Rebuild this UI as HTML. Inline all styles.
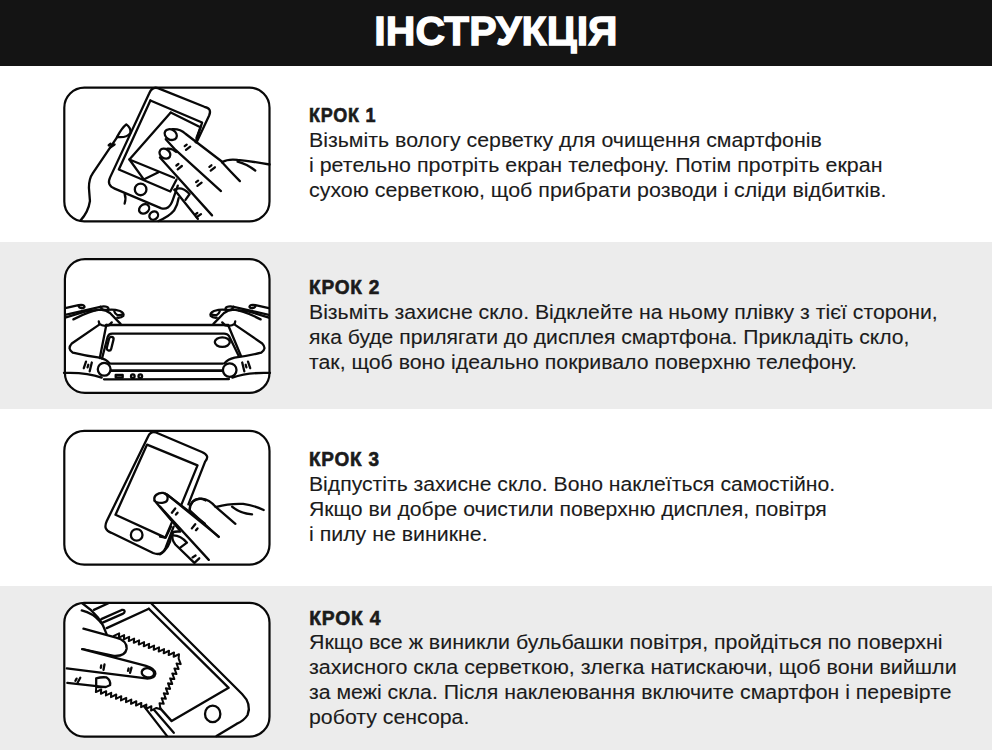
<!DOCTYPE html>
<html><head><meta charset="utf-8">
<style>
html,body{margin:0;padding:0;}
body{width:992px;height:750px;position:relative;overflow:hidden;background:#fff;font-family:"Liberation Sans",sans-serif;color:#1b1b1b;}
.hdr{position:absolute;left:0;top:0;width:992px;height:66.4px;background:#141414;}
.title{position:absolute;left:0px;width:992px;text-align:center;top:7px;font-weight:bold;font-size:41px;line-height:48px;color:#fff;-webkit-text-stroke:1.3px #fff;letter-spacing:0.05px;}
.band{position:absolute;left:0;width:992px;background:#ececec;}
.ill{position:absolute;left:0;top:0;}
.ill *{vector-effect:non-scaling-stroke;}
.t{position:absolute;left:309.3px;white-space:nowrap;font-size:19.3px;line-height:20px;transform-origin:0 0;-webkit-text-stroke:0.1px #1b1b1b;}
.h{font-weight:bold;-webkit-text-stroke:0.6px #1b1b1b;}
</style></head><body>
<div class="hdr"></div>
<div class="title">ІНСТРУКЦІЯ</div>
<div class="band" style="top:241.8px;height:167.7px"></div>
<div class="band" style="top:585.7px;height:164.3px"></div>
<svg class="ill" width="992" height="750" viewBox="0 0 992 750" fill="none" stroke="#080808" stroke-width="2.3" stroke-linecap="round" stroke-linejoin="round" vector-effect="non-scaling-stroke">
<rect x="64.3" y="87.7" width="205.2" height="133.7" rx="20" fill="#fff" stroke-width="2.2"/>
<rect x="64.9" y="259.1" width="204.6" height="133.8" rx="20" fill="#fff" stroke-width="2.2"/>
<rect x="64.3" y="430.9" width="205.2" height="133.7" rx="20" fill="#fff" stroke-width="2.2"/>
<rect x="64.3" y="602.8" width="205.2" height="133.9" rx="20" fill="#fff" stroke-width="2.2"/>
<!--ILL1--><g transform="translate(64,86) scale(0.207661)">
<path d="M638,272 L699,142 Q714,108 676,100 L452,10 Q424,2 410,36 L222,440 Q204,478 244,494 L466,588 Q505,602 524,548 L548,480"/>
<path d="M416,70 L665,176 L634,270"/>
<path d="M416,70 L264,402 L512,508 L542,450"/>
<path d="M514,128 L657,199 L638,250"/>
<path d="M514,128 L315,354 L384,450 L455,415"/>
<path d="M315,354 L530,442"/>
<circle cx="369" cy="498" r="28"/>
<ellipse cx="514" cy="234" rx="31" ry="24" transform="rotate(30 514 234)"/>
<path d="M522,208 Q560,206 585,230 L763,366"/>
<path d="M490,256 L537,308 L756,506"/>
<ellipse cx="486" cy="326" rx="28" ry="22" transform="rotate(35 486 326)"/>
<path d="M498,302 Q522,300 540,318"/>
<path d="M462,344 L713,623"/>
<path d="M761,367 Q790,350 836,356 Q900,362 990,378"/>
<path d="M836,364 Q880,375 921,407"/>
<path d="M761,367 Q800,410 847,458"/>
<path d="M532,500 Q565,480 605,520 L585,548"/>
<path d="M532,500 L645,640"/>
<path d="M255,246 Q280,200 300,185 Q322,200 320,225 Q305,250 258,246"/>
<path d="M256,246 L139,420 Q120,447 120,490 L125,554 Q117,607 80,647"/>
<path d="M292,520 Q300,540 292,566"/>
<ellipse cx="386" cy="592" rx="26" ry="21" transform="rotate(-35 386 592)"/>
<ellipse cx="432" cy="624" rx="22" ry="19" transform="rotate(-35 432 624)"/>
<path d="M455,650 Q505,630 530,600 Q548,570 552,540"/>
</g>
<path d="M186.0,149.9 L190.2,146.6 M184.7,146.1 L186.7,144.6 M177.7,169.3 L181.9,166.0 M176.4,165.5 L178.4,164.0 M210.7,170.6 L214.9,167.3 M209.4,166.8 L211.4,165.3 M197.4,185.9 L201.6,182.6 M196.1,182.1 L198.1,180.6 M110.2,147.5 L114.6,144.5 M108.7,145.2 L110.6,143.8 M196.6,217.2 L201.0,214.1 M195.4,214.4 L197.3,213.0 "/>
<!--/ILL1-->
<!--ILL2--><g transform="translate(64,300) scale(0.060484)">
<path d="M20,135 L240,85 Q335,70 340,112 Q335,140 280,130"/>
<path d="M240,100 Q250,130 290,132"/>
<path d="M20,245 L600,112"/>
<path d="M600,112 Q720,95 735,140 Q730,170 690,165"/>
<path d="M20,290 L330,195 Q420,172 520,172"/>
<path d="M610,120 Q620,160 670,165"/>
<path d="M155,320 Q450,170 600,160 Q700,170 760,215 L935,395"/>
<path d="M722,165 Q815,149 926,182 Q1003,220 980,264 Q947,298 881,293"/>
<path d="M831,187 Q843,231 881,248 Q947,253 970,236"/>
<path d="M575,355 L585,395 Q640,440 740,420 L790,370"/>
</g>
<g transform="translate(64,300) scale(0.110887)">
<path d="M318,222 L70,392 Q25,440 80,475 Q200,505 320,520 Q380,535 410,570"/>
<path d="M0,658 Q200,650 340,700"/>
</g>
<g transform="translate(334,0) scale(-1,1) translate(64,300) scale(0.060484)">
<path d="M20,135 L240,85 Q335,70 340,112 Q335,140 280,130"/>
<path d="M240,100 Q250,130 290,132"/>
<path d="M20,245 L600,112"/>
<path d="M600,112 Q720,95 735,140 Q730,170 690,165"/>
<path d="M20,290 L330,195 Q420,172 520,172"/>
<path d="M610,120 Q620,160 670,165"/>
<path d="M155,320 Q450,170 600,160 Q700,170 760,215 L935,395"/>
<path d="M722,165 Q815,149 926,182 Q1003,220 980,264 Q947,298 881,293"/>
<path d="M831,187 Q843,231 881,248 Q947,253 970,236"/>
<path d="M575,355 L585,395 Q640,440 740,420 L790,370"/>
</g>
<g transform="translate(334,0) scale(-1,1) translate(64,300) scale(0.110887)">
<path d="M318,222 L70,392 Q25,440 80,475 Q200,505 320,520 Q380,535 410,570"/>
<path d="M0,658 Q200,650 340,700"/>
</g>
<path d="M106.3,325 L228.3,325"/>
<path d="M106.3,325 L99.8,358"/>
<path d="M228.3,325.5 L241,356"/>
<path d="M102,358.5 L107.6,337 Q108.6,333.6 112,333.6 L224,333.6 Q227.5,333.6 229,336 L239,356.5"/>
<rect x="107.9" y="336.7" width="4.5" height="14" rx="2.2" transform="rotate(14 110.1 343.7)"/>
<ellipse cx="222.3" cy="342.1" rx="7.5" ry="4.8"/>
<path d="M110.5,363.6 L223,363.6"/>
<path d="M111,370.6 L222,370.6" stroke-width="2.8"/>
<path d="M104,379.3 L229,379.1"/>
<rect x="115.7" y="375.0" width="7" height="2.6"/>
<circle cx="132.8" cy="376.2" r="1.8"/>
<circle cx="140.3" cy="376.2" r="1.8"/>
<circle cx="104.2" cy="369.3" r="6.4"/>
<circle cx="229.7" cy="370.1" r="6.8"/>
<path d="M86,361.7 L83.8,368.2 M88.3,364.8 L87.6,367.3 M91.8,362.5 L89.7,371.3"/>
<path transform="translate(334,0) scale(-1,1)" d="M86,361.7 L83.8,368.2 M88.3,364.8 L87.6,367.3 M91.8,362.5 L89.7,371.3"/>
<!--/ILL2-->
<!--ILL3--><g transform="translate(64,429) scale(0.207661)">
<path d="M599,363 L680,156 Q705,128 664,111 L443,17 Q418,8 405,36 L206,443 Q186,486 228,500 L429,597 Q472,614 489,573 L528,470"/>
<path d="M566,363 L643,175 L400,75 L248,413 L488,523 L519,451"/>
<circle cx="350" cy="510" r="28"/>
</g>
<g transform="translate(145,485) scale(0.060484)">
<path d="M160,260 C130,180 220,120 300,130 C360,140 385,190 372,240 C358,300 260,305 195,285"/>
<path d="M330,142 Q380,170 420,200 L990,640"/>
<path d="M160,260 L570,744"/>
<path d="M740,400 Q740,250 900,225 Q960,225 1000,255"/>
</g>
<g transform="translate(160,490) scale(0.110887)">
<path d="M500,150 L680,305"/>
<path d="M62,40 L530,420"/>
<path d="M0,150 L440,630"/>
<path d="M510,152 Q620,120 750,125 Q850,140 935,180"/>
<path d="M650,150 Q720,210 830,220"/>
<path d="M0,580 Q90,520 100,420"/>
<path d="M0,420 L50,430 L100,330"/>
</g>
<g transform="translate(64,429) scale(0.207661)">
<path d="M605,392 Q608,335 662,335 Q700,338 730,375"/>
<path d="M608,394 L745,520"/>
</g>
<g transform="translate(160,520) scale(0.061333)">
<path d="M210,200 Q180,320 250,400 L560,700"/>
<path d="M200,250 Q330,240 440,370 L330,450"/>
<path d="M205,205 Q250,180 330,190"/>
<path d="M530,610 L580,580 M570,690 L640,625"/>
</g>
<path d="M171.9,512.7 L175.2,508.5 M176.0,514.5 L177.5,512.7 M191.9,528.4 L195.2,524.2 M196.0,530.2 L197.5,528.4 "/>
<!--/ILL3-->
<!--ILL4--><g transform="translate(64,601) scale(0.207661)">
<path d="M421.9,13.4 L857.5,447.6 Q905,495.6 884,549 Q868,575.7 830.8,591.8 L734.6,650.5"/>
<path d="M408.5,37.4 L793,418.2 L518.4,578.4 L454,506.3"/>
<path d="M205.6,130.8 L408.5,37.4"/>
<path d="M144,42.7 L213.6,10.7"/>
<path d="M384.5,506.3 L496.6,650.5"/>
<path d="M427,517 L528.7,634.5"/>
<ellipse cx="716" cy="543.7" rx="37" ry="40"/>
<path d="M182,86 L278,43 Q290,40 292,50 Q292,57 282,62 L186,104 Q176,106 174,98 Q174,90 182,86"/>
<path d="M240.0,168.0 L265.8,155.8 L264.0,176.4 L289.8,164.2 L288.0,184.8 L313.8,172.6 L312.0,193.2 L337.8,181.0 L336.0,201.5 L361.8,189.4 L360.0,209.9 L385.8,197.7 L384.0,218.3 L409.8,206.1 L408.0,226.7 L433.8,214.5 L432.0,235.1 L457.8,222.9 L456.0,243.5 L481.8,231.3 L480.0,251.8 L505.8,239.7 L504.0,260.2 L529.8,248.1 L528.0,268.6 L553.8,256.4 L552.0,277.0 L562.2,304.0 L541.8,300.9 L552.0,327.9 L531.6,324.8 L541.8,351.8 L521.3,348.7 L531.5,375.6 L511.1,372.6 L521.3,399.5 L500.9,396.4 L511.1,423.4 L490.7,420.3 L500.9,447.3 L480.4,444.2 L490.7,471.2 L470.2,468.1 L480.4,495.1 L460.0,492.0 L464.8,521.3 L445.0,515.0 L419.3,527.5 L420.8,506.9 L395.2,519.4 L396.7,498.8 L371.0,511.3 L372.5,490.8 L346.8,503.3 L348.3,482.7 L322.7,495.2 L324.2,474.6 L298.5,487.1 L300.0,466.5 L274.3,479.0 L275.8,458.4 L250.2,470.9 L251.7,450.3 L226.0,462.8 L227.5,442.2 L201.8,454.8 L203.3,434.2 L177.7,446.7 L179.2,426.1 L153.5,438.6 L155.0,418.0" fill="#fff" stroke-width="2"/>
<path d="M85.4,45.4 Q140,60 171,96"/>
<path d="M90.8,13.4 Q176,70 205.6,160.2"/>
<path d="M93.5,133.5 L251,176 Q304,190 301.7,229.6 Q295,267 240,264 L88,232" fill="#fff"/>
<path d="M88,232 L395,312 Q440,325 440,350 Q435,375 395,373 L13.4,324.8" fill="#fff"/>
<ellipse cx="404" cy="346" rx="30" ry="22" transform="rotate(10 404 346)"/>
<path d="M16,394 L200,415"/>
<path d="M155,373 L155,413 Q200,420 222,405 Q225,380 205,368 Q180,365 155,373"/>
</g>
<path d="M103.5,669.8 L104.5,664.5 M100.8,667.8 L101.2,665.5 M130.1,672.8 L131.5,667.6 M128.0,670.8 L128.6,668.5 M77.7,682.5 L80.3,677.8 M75.4,680.7 L76.6,678.6 "/>
<!--/ILL4-->
</svg>
<div class="t h" style="top:106px;letter-spacing:0.8px;transform:scaleX(0.934)">КРОК 1</div>
<div class="t" style="top:131px;transform:scaleX(1.1065)">Візьміть вологу серветку для очищення смартфонів</div>
<div class="t" style="top:156px;transform:scaleX(1.1107)">і ретельно протріть екран телефону. Потім протріть екран</div>
<div class="t" style="top:181px;transform:scaleX(1.1100)">сухою серветкою, щоб прибрати розводи і сліди відбитків.</div>

<div class="t h" style="top:278px;letter-spacing:0.8px;transform:scaleX(0.989)">КРОК 2</div>
<div class="t" style="top:303px;transform:scaleX(1.1004)">Візьміть захисне скло. Відклейте на ньому плівку з тієї сторони,</div>
<div class="t" style="top:328px;transform:scaleX(1.0956)">яка буде прилягати до дисплея смартфона. Прикладіть скло,</div>
<div class="t" style="top:353px;transform:scaleX(1.1032)">так, щоб воно ідеально покривало поверхню телефону.</div>

<div class="t h" style="top:449.5px;letter-spacing:0.8px;transform:scaleX(0.983)">КРОК 3</div>
<div class="t" style="top:474.5px;transform:scaleX(1.0977)">Відпустіть захисне скло. Воно наклеїться самостійно.</div>
<div class="t" style="top:499.5px;transform:scaleX(1.0989)">Якщо ви добре очистили поверхню дисплея, повітря</div>
<div class="t" style="top:524.5px;transform:scaleX(1.1063)">і пилу не виникне.</div>

<div class="t h" style="top:608.5px;letter-spacing:0.8px;transform:scaleX(1.0)">КРОК 4</div>
<div class="t" style="top:633.4px;transform:scaleX(1.1090)">Якщо все ж виникли бульбашки повітря, пройдіться по поверхні</div>
<div class="t" style="top:658.2px;transform:scaleX(1.1140)">захисного скла серветкою, злегка натискаючи, щоб вони вийшли</div>
<div class="t" style="top:683.1px;transform:scaleX(1.1024)">за межі скла. Після наклеювання включите смартфон і перевірте</div>
<div class="t" style="top:708px;transform:scaleX(1.1042)">роботу сенсора.</div>
</body></html>
